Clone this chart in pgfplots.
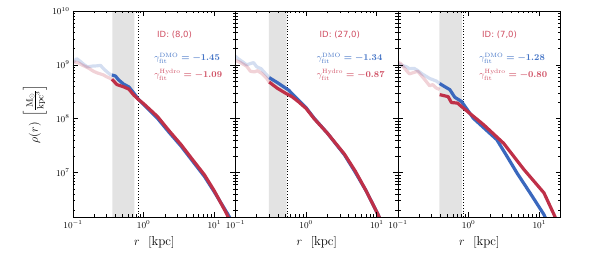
\documentclass[border=0pt]{standalone}
\usepackage{pgfplots}
\pgfplotsset{compat=1.18}
\usepackage{fontspec}
\newfontfamily\dejavu{DejaVu Sans}
\definecolor{cblue}{HTML}{3A68BE}
\definecolor{cred}{HTML}{BF3048}
\definecolor{tred}{HTML}{CF4E62}
\definecolor{tblue}{HTML}{4474C6}
\pgfplotsset{
  every axis/.append style={
  xmin=0.1, xmax=20, ymin=1.5e6, ymax=1e10,
  scale only axis, width=162.5pt, height=206pt,
  axis line style={line width=0.8pt}, axis on top,
  major tick length=5pt, minor tick length=2.5pt,
  tick label style={font=\fontsize{9}{10}\selectfont},
  label style={font=\fontsize{13}{15}\selectfont},
  xlabel style={at={(axis description cs:0.5,-0.126)}, anchor=center}},
  every tick/.append style={black, line width=0.6pt},
}
\tikzset{
 rband/.style={fill=black!11, draw=none},
 rvline/.style={black, line width=0.8pt, dotted},
 rfb/.style={cblue, opacity=0.22, line width=3.2pt, line join=round},
 rfr/.style={cred, opacity=0.22, line width=3.2pt, line join=round},
 rsb/.style={cblue, line width=3.2pt, line join=round},
 rsr/.style={cred, line width=3.2pt, line join=round},
}
\newcommand{\idtext}[1]{\node[anchor=west, inner sep=0pt, text=tred, font=\dejavu\fontsize{8.5}{10}\selectfont] at (axis description cs:0.517,0.883) {ID: (#1)};}
\newcommand{\gtext}[2]{%
 \node[anchor=west, inner sep=0pt, text=tblue, font=\fontsize{8.8}{10}\selectfont] at (axis description cs:0.50,0.772) {$\gamma^{\mathrm{DMO}}_{\mathrm{fit}}$ {\boldmath$=-#1$}};
 \node[anchor=west, inner sep=0pt, text=tred, font=\fontsize{8.8}{10}\selectfont] at (axis description cs:0.50,0.690) {$\gamma^{\mathrm{Hydro}}_{\mathrm{fit}}$ {\boldmath$=-#2$}};}
\begin{document}
\begin{tikzpicture}
\useasboundingbox (0,0) rectangle (598pt,262pt);
% ---------------- panel 1
\begin{loglogaxis}[at={(73pt,45pt)}, anchor=south west,
 xlabel={$r\ \ [\mathrm{kpc}]$},
 ylabel={$\rho(r)\ \left[\frac{\mathrm{M}_\odot}{\mathrm{kpc}^3}\right]$},
 ylabel style={at={(axis description cs:-0.234,0.5)}, anchor=center}]
\addplot[rband, forget plot] coordinates {(0.36,1.5e6) (0.36,1e10) (0.74,1e10) (0.74,1.5e6) (0.36,1.5e6)};
\addplot[rvline] coordinates {(0.85,1.5e6) (0.85,1e10)};
\addplot[rfb] coordinates {(0.100,1.12e9) (0.113,1.30e9) (0.128,1.15e9) (0.145,1.0e9) (0.16,9.2e8) (0.19,9.5e8) (0.22,9.6e8) (0.245,9.8e8) (0.27,8.5e8) (0.30,7.5e8) (0.338,6.6e8) (0.356,6.5e8)};
\addplot[rfr] coordinates {(0.100,1.15e9) (0.12,1.08e9) (0.133,1.0e9) (0.166,8.7e8) (0.195,7.6e8) (0.22,7.1e8) (0.27,6.5e8) (0.30,6.0e8) (0.338,5.6e8) (0.356,5.4e8)};
\addplot[rsb] coordinates {(0.356,6.5e8) (0.40,6.2e8) (0.44,5.3e8) (0.52,4.4e8) (0.617,3.9e8) (0.726,3.0e8) (0.857,2.24e8) (1.0,1.84e8) (1.57,1.02e8) (2.29,5.6e7) (3.39,3.1e7) (5.0,1.6e7) (7.26,8.5e6) (10,4.4e6) (15.7,1.66e6) (18,1.2e6)};
\addplot[rsr] coordinates {(0.356,5.4e8) (0.42,4.3e8) (0.524,3.9e8) (0.617,3.55e8) (0.726,2.75e8) (0.857,2.24e8) (1.0,1.9e8) (1.57,1.10e8) (2.29,6.0e7) (3.39,3.3e7) (5.0,1.7e7) (7.26,9.1e6) (10,4.6e6) (14.8,1.78e6) (17,1.2e6)};
\idtext{8,0}
\gtext{1.45}{1.09}
\end{loglogaxis}
% ---------------- panel 2
\begin{loglogaxis}[at={(235.5pt,45pt)}, anchor=south west, yticklabels={},
 xlabel={$r\ \ [\mathrm{kpc}]$}]
\addplot[rband, forget plot] coordinates {(0.296,1.5e6) (0.296,1e10) (0.53,1e10) (0.53,1.5e6) (0.296,1.5e6)};
\addplot[rvline] coordinates {(0.54,1.5e6) (0.54,1e10)};
\addplot[rfb] coordinates {(0.100,1.45e9) (0.109,1.3e9) (0.125,1.15e9) (0.144,1.0e9) (0.16,1.05e9) (0.18,1.1e9) (0.2,9.2e8) (0.23,8.5e8) (0.277,6.5e8) (0.30,5.8e8)};
\addplot[rfr] coordinates {(0.100,1.2e9) (0.115,1.12e9) (0.143,9.5e8) (0.163,7.6e8) (0.185,7.4e8) (0.205,7.8e8) (0.24,6.8e8) (0.277,5.6e8) (0.30,4.8e8)};
\addplot[rsb] coordinates {(0.30,5.8e8) (0.40,4.6e8) (0.565,3.4e8) (0.785,2.2e8) (1.0,1.6e8) (1.30,1.02e8) (2.0,5.4e7) (3.49,2.14e7) (5.0,1.0e7) (7.0,4.7e6) (10.45,1.66e6) (12,1.1e6)};
\addplot[rsr] coordinates {(0.30,4.8e8) (0.389,3.7e8) (0.506,3.0e8) (0.63,2.57e8) (0.785,2.05e8) (1.0,1.55e8) (1.30,1.0e8) (2.0,5.4e7) (3.49,2.2e7) (5.0,1.05e7) (7.0,4.7e6) (10.45,1.66e6) (12,1.1e6)};
\idtext{27,0}
\gtext{1.34}{0.87}
\end{loglogaxis}
% ---------------- panel 3
\begin{loglogaxis}[at={(398pt,45pt)}, anchor=south west, yticklabels={},
 xlabel={$r\ \ [\mathrm{kpc}]$}]
\addplot[rband, forget plot] coordinates {(0.385,1.5e6) (0.385,1e10) (0.80,1e10) (0.80,1.5e6) (0.385,1.5e6)};
\addplot[rvline] coordinates {(0.83,1.5e6) (0.83,1e10)};
\addplot[rfb] coordinates {(0.100,1.05e9) (0.108,1.0e9) (0.13,9.3e8) (0.145,8.5e8) (0.17,8.6e8) (0.191,7.8e8) (0.22,6.8e8) (0.28,5.6e8) (0.35,5.0e8) (0.389,4.5e8)};
\addplot[rfr] coordinates {(0.100,1.1e9) (0.108,1.07e9) (0.13,8.0e8) (0.145,6.8e8) (0.19,7.6e8) (0.24,5.3e8) (0.28,4.1e8) (0.31,4.3e8) (0.35,3.7e8) (0.389,3.5e8)};
\addplot[rsb] coordinates {(0.389,4.5e8) (0.45,4.0e8) (0.541,3.47e8) (0.638,2.5e8) (0.794,2.09e8) (1.167,1.02e8) (1.7,6.5e7) (2.51,4.07e7) (3.5,2.0e7) (4.85,9.8e6) (7.5,4.1e6) (11.67,1.66e6) (13,1.2e6)};
\addplot[rsr] coordinates {(0.389,2.8e8) (0.513,2.57e8) (0.571,2.0e8) (0.697,1.95e8) (0.84,1.58e8) (1.62,7.8e7) (3.13,3.5e7) (6.04,1.15e7) (11.67,4.2e6) (16.2,1.66e6) (18,1.2e6)};
\idtext{7,0}
\gtext{1.28}{0.80}
\end{loglogaxis}
\end{tikzpicture}
\end{document}
